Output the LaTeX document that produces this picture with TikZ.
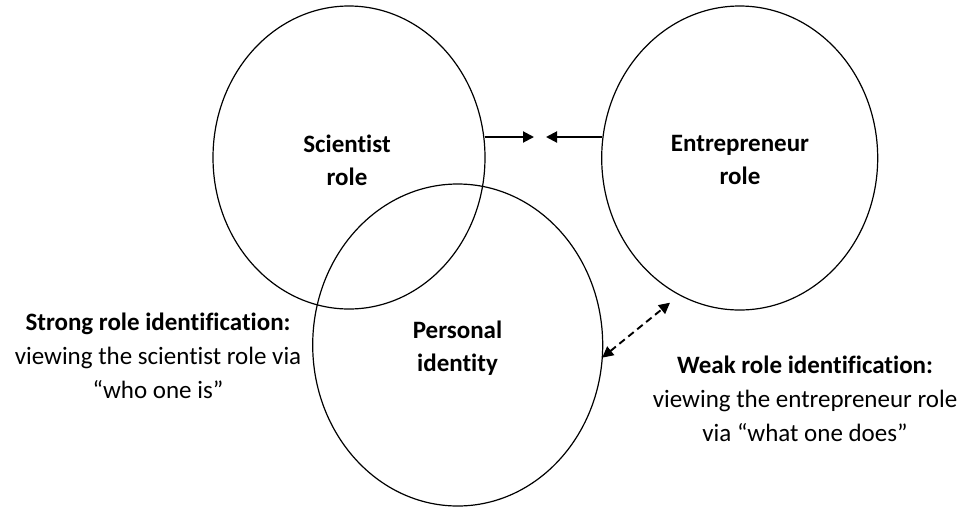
\documentclass[tikz,border=0pt]{standalone}
\usepackage{fontspec}
\setmainfont{Carlito}[Ligatures={NoCommon}]
\usetikzlibrary{shapes.geometric,arrows.meta}
\begin{document}
\begin{tikzpicture}[x=1pt,y=-1pt,
  role/.style={draw, ellipse, line width=1.2pt, inner sep=0pt, outer sep=0pt},
  rolelabel/.style={font=\fontsize{25}{33}\selectfont\bfseries, align=center, inner sep=0pt},
  sidelabel/.style={font=\fontsize{25}{34}\selectfont, align=center, inner sep=0pt},
  tip/.tip={Triangle[length=11pt,width=11pt]},
  arr/.style={line width=2pt, -tip},
  darr/.style={line width=1.9pt, dash pattern=on 7pt off 4.5pt, tip-tip}]
\useasboundingbox (0,0) rectangle (972,507);
% ellipses
\node[role, minimum width=272pt, minimum height=303pt] (sci) at (349,157.5) {};
\node[role, minimum width=276pt, minimum height=304pt] (ent) at (739.7,158) {};
\node[role, minimum width=290pt, minimum height=322pt] (pers) at (457.7,345) {};
% labels
\node[rolelabel] (scit) at (347,160.5) {Scientist\\role};
\node[rolelabel] (entt) at (740,160) {Entrepreneur\\role};
\node[rolelabel] (perst) at (457.5,348.5) {Personal\\identity};
\node[sidelabel] (strong) at (158,355.5) {\textbf{Strong role identification:}\\viewing the scientist role via\\“who one is”};
\node[sidelabel] (weak) at (805,399) {\textbf{Weak role identification:}\\viewing the entrepreneur role\\via “what one does”};
% arrows
\coordinate (m1) at (534,137);
\coordinate (m2) at (546,137);
\coordinate (d1) at (670,302.7);
\draw[arr] (sci.east |- m1) -- (m1);
\draw[arr] (ent.west |- m2) -- (m2);
\draw[darr] (pers.-5.5) -- (d1);
\end{tikzpicture}
\end{document}
